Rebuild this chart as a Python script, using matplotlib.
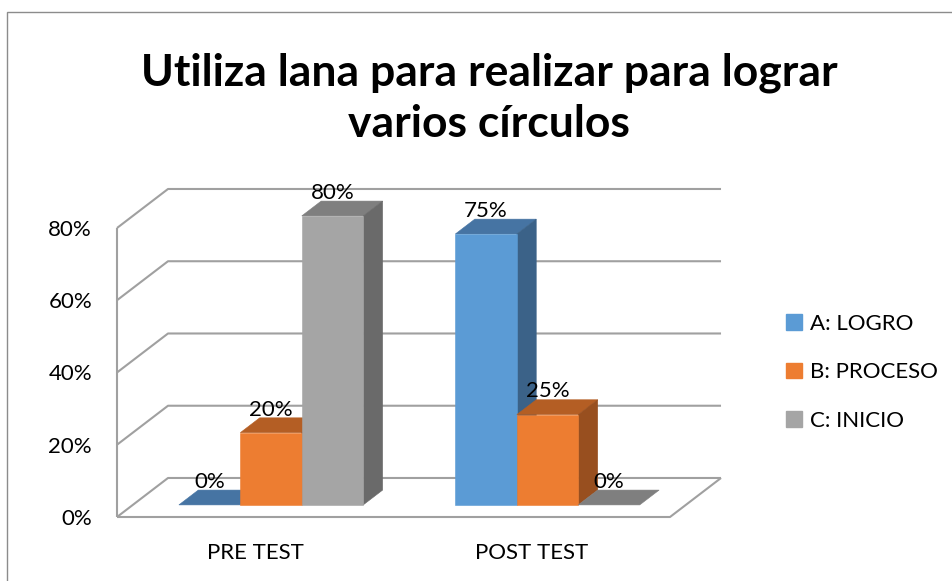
import matplotlib.pyplot as plt
from matplotlib.patches import Polygon, Patch, Rectangle

categories = ['PRE TEST', 'POST TEST']
series_names = ['A: LOGRO', 'B: PROCESO', 'C: INICIO']
logro = [0, 75]
proceso = [20, 25]
inicio = [80, 0]
y_ticks = [0, 20, 40, 60, 80]
y_tick_labels = ['0%', '20%', '40%', '60%', '80%']
title = 'Utiliza lana para realizar para lograr\nvarios círculos'

front_colors = ['#5b9bd5', '#ed7d31', '#a5a5a5']
top_colors = ['#4674a3', '#b45e24', '#7f7f7f']
side_colors = ['#3b6288', '#984f1f', '#6a6a6a']

# oblique "3D" depth offset in data units
DX, DY = 0.1845, 10.8
F0, F1 = 0.31, 0.69      # bar front / back as fraction of floor depth
BAR_W = 2 / 9


def proj(x, v, d):
    return (x + d * DX, v + d * DY)


plt.rcParams['font.family'] = ['Lato', 'DejaVu Sans']
fig = plt.figure(figsize=(9.52, 5.81), dpi=100)
ax = fig.add_axes([117 / 952, 64 / 581, 553 / 952, 289 / 581])
ax.set_xlim(0, 2)
ax.set_ylim(0, 80)
for s in ax.spines.values():
    s.set_visible(False)

grid_kw = dict(color='#a0a0a0', lw=1.5, clip_on=False, solid_capstyle='butt', zorder=1)
for v in y_ticks:
    ax.plot([0, DX, 2 + DX], [v, v + DY, v + DY], **grid_kw)
ax.plot([0, 0], [0, 80], **grid_kw)
ax.plot([0, 2, 2 + DX], [0, 0, DY], **grid_kw)

values = [logro, proceso, inicio]
for g in range(len(categories)):
    for i in range(len(series_names)):
        h = values[i][g]
        x0 = g + 1 / 6 + i * BAR_W
        x1 = x0 + BAR_W
        faces = [([proj(x0, h, F0), proj(x1, h, F0), proj(x1, h, F1), proj(x0, h, F1)], top_colors[i])]
        if h > 0:
            faces.append(([proj(x1, 0, F0), proj(x1, 0, F1), proj(x1, h, F1), proj(x1, h, F0)], side_colors[i]))
            faces.append(([proj(x0, 0, F0), proj(x1, 0, F0), proj(x1, h, F0), proj(x0, h, F0)], front_colors[i]))
        for pts, c in faces:
            ax.add_patch(Polygon(pts, closed=True, facecolor=c, edgecolor=c, lw=0.4,
                                 clip_on=False, zorder=2))
        ax.text(x0 + BAR_W / 2 + F0 * DX, h + F1 * DY + 2.3, f'{h}%', ha='center', va='center',
                fontsize=16, zorder=3)

ax.set_yticks(y_ticks, y_tick_labels)
ax.set_xticks([0.5, 1.5], categories)
ax.tick_params(axis='y', length=0, pad=18, labelsize=16)
ax.tick_params(axis='x', length=0, pad=18.5, labelsize=16)
for lbl in ax.get_yticklabels():
    lbl.set_va('center_baseline')

handles = [Patch(facecolor=c, edgecolor=c) for c in front_colors]
fig.legend(handles, series_names, loc='upper left', bbox_to_anchor=(786 / 952, 1 - 314 / 581),
           frameon=False, fontsize=16, handlelength=0.7, handleheight=0.7, handletextpad=0.4,
           labelspacing=1.28, borderpad=0, borderaxespad=0)

fig.text(489 / 952, 1 - 98 / 581, title, ha='center', va='center', fontsize=32,
         fontweight='bold', linespacing=1.33)

fig.add_artist(Rectangle((7 / 952, -0.5), 2, 0.5 + 1 - 12 / 581, transform=fig.transFigure,
                         fill=False, edgecolor='#8c8c8c', lw=1))

fig.savefig('out.png', dpi=100)
